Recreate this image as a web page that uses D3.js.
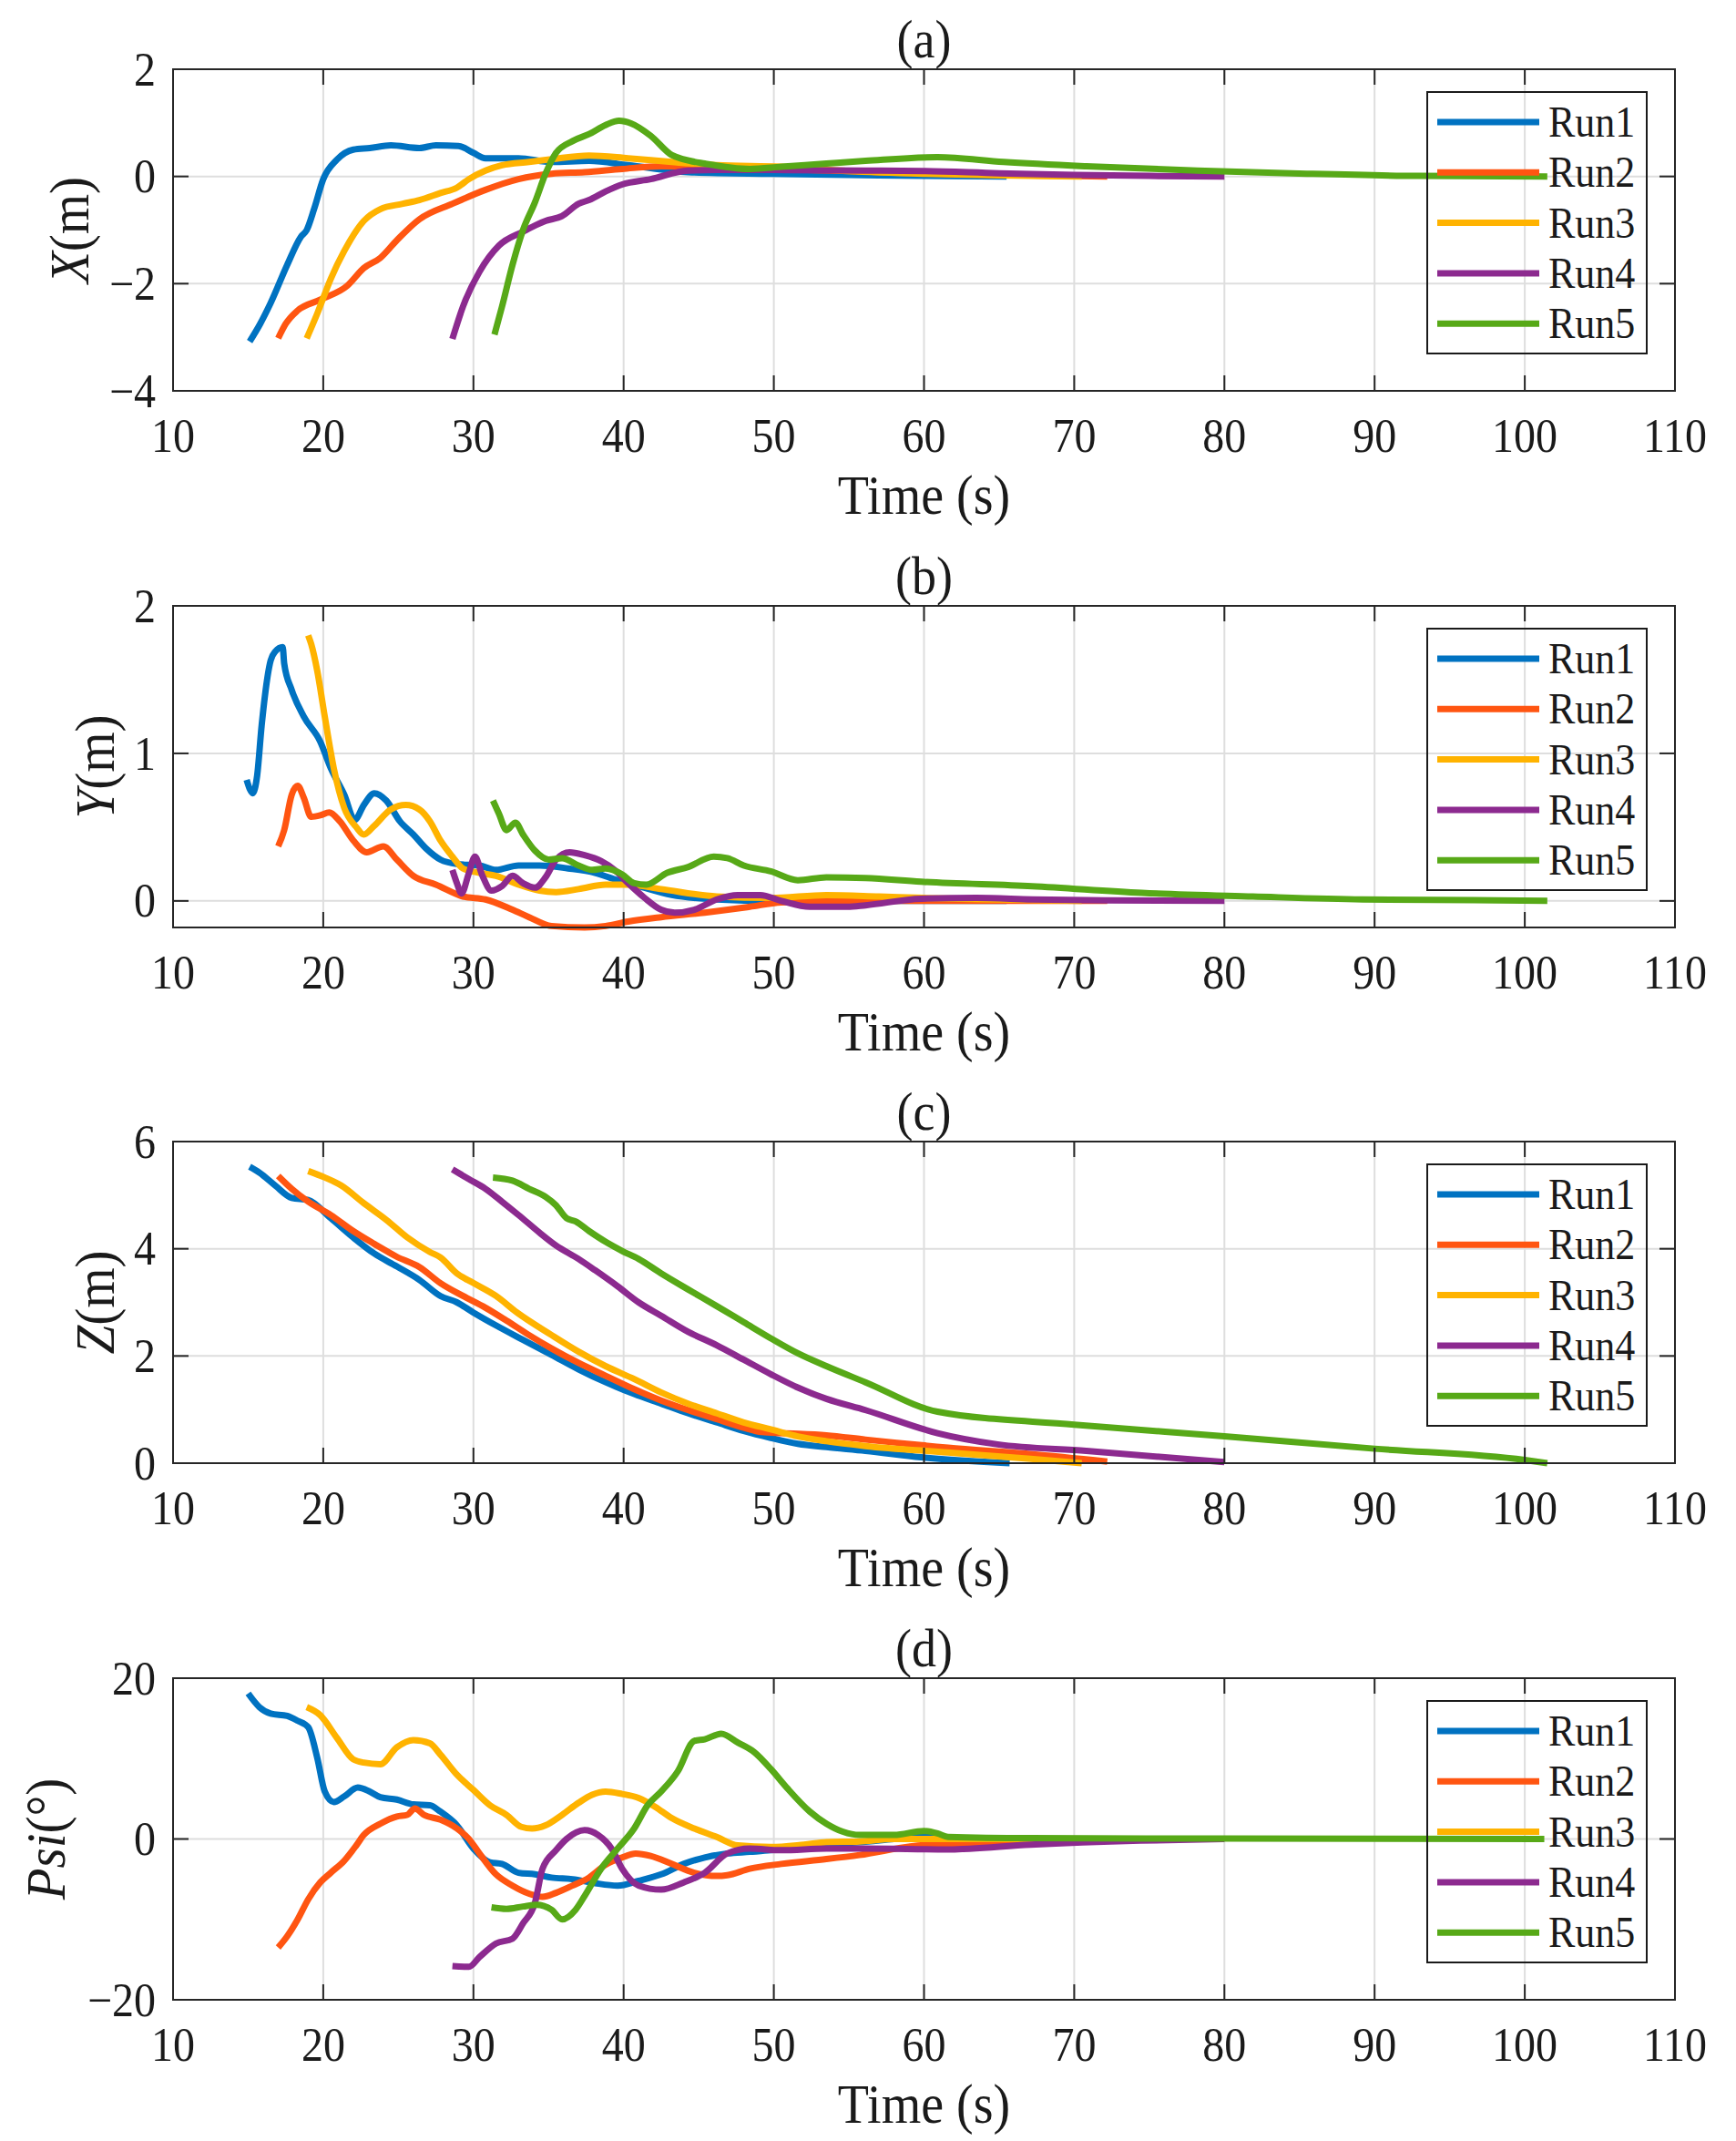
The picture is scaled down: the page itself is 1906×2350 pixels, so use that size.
<!DOCTYPE html>
<html>
<head>
<meta charset="utf-8">
<script src="https://cdn.jsdelivr.net/npm/d3@7"></script>
<style>
  html, body { margin: 0; padding: 0; background: #fff; }
  svg { display: block; }
  text { font-family: "Liberation Serif", "Times New Roman", Times, serif; fill: #1a1a1a; }
</style>
</head>
<body>
<svg id="chart" width="1906" height="2350"></svg>
<script>
// ---------------- DATA ----------------
const runNames = ["Run1", "Run2", "Run3", "Run4", "Run5"];
const runColors = ["#0072C1", "#FF5511", "#FFB300", "#8C2A8F", "#57A917"];
const xTicks = [10, 20, 30, 40, 50, 60, 70, 80, 90, 100, 110];
const panelTitles = ["(a)", "(b)", "(c)", "(d)"];

// Panel (a): X(m)
const xRun1 = [[15.1,-3.08],[15.8,-2.75],[16.5,-2.36],[17.6,-1.65],[18.5,-1.13],[18.9,-1.0],[19.4,-0.6],[20.0,-0.05],[20.9,0.31],[22.0,0.5],[23.1,0.53],[24.5,0.58],[26.4,0.53],[27.5,0.58],[29.0,0.57],[30.0,0.44],[30.8,0.34],[33.0,0.34],[35.2,0.27],[37.7,0.29],[40.3,0.21],[44.3,0.08],[49.8,0.05],[55,0.03],[60,0.01],[65.5,0]];
const xRun2 = [[17.0,-3.02],[17.5,-2.75],[18.3,-2.5],[19.8,-2.3],[21.6,-2.04],[22.7,-1.71],[23.8,-1.52],[24.9,-1.19],[26.4,-0.8],[28.6,-0.51],[30.8,-0.25],[33.0,-0.05],[35.2,0.05],[37.4,0.08],[39.9,0.14],[42.5,0.19],[45.4,0.18],[50,0.14],[55,0.1],[60,0.06],[65,0.03],[72.2,0]];
const xRun3 = [[18.9,-3.02],[19.6,-2.56],[20.5,-1.91],[21.4,-1.39],[22.7,-0.83],[23.8,-0.61],[25.3,-0.51],[26.4,-0.44],[27.8,-0.31],[28.9,-0.21],[29.7,-0.05],[30.8,0.11],[31.9,0.21],[33.7,0.27],[35.2,0.32],[37.7,0.39],[40.3,0.34],[43.2,0.27],[46.2,0.21],[50.5,0.18],[55,0.1],[60,0.05],[65,0.02],[70.5,0]];
const xRun4 = [[28.6,-3.03],[29.3,-2.43],[30.4,-1.78],[31.7,-1.29],[33.3,-1.03],[34.8,-0.83],[35.9,-0.74],[37.0,-0.51],[37.7,-0.44],[38.8,-0.28],[39.9,-0.15],[41.8,-0.05],[44.3,0.11],[46.2,0.12],[50,0.12],[56.1,0.11],[60,0.1],[65,0.06],[70,0.03],[75,0.01],[80,0]];
const xRun5 = [[31.4,-2.95],[31.9,-2.43],[32.6,-1.65],[33.3,-1.0],[34.1,-0.48],[34.8,0.05],[35.5,0.44],[36.6,0.66],[37.7,0.79],[38.8,0.96],[39.7,1.04],[40.5,0.99],[41.8,0.76],[43.2,0.40],[44.0,0.32],[45.4,0.24],[48.4,0.14],[50.5,0.18],[53.5,0.24],[56.1,0.29],[60.9,0.36],[65.3,0.27],[70.8,0.19],[78.2,0.11],[85.5,0.05],[92.9,0.01],[101.5,0]];

// Panel (b): Y(m)
const yRun1 = [[14.9,0.82],[15.1,0.76],[15.3,0.73],[15.6,0.85],[15.9,1.19],[16.5,1.63],[16.8,1.69],[17.3,1.72],[17.4,1.61],[17.9,1.43],[18.7,1.25],[19.8,1.08],[20.5,0.9],[21.4,0.72],[22.1,0.55],[22.7,0.65],[23.4,0.73],[24.2,0.68],[25.1,0.54],[26.0,0.45],[26.9,0.35],[27.8,0.28],[28.9,0.25],[30.4,0.24],[31.5,0.21],[33.0,0.24],[34.4,0.24],[36.3,0.22],[38.1,0.19],[39.6,0.14],[41.0,0.1],[43.2,0.04],[46.2,0.01],[49.8,0],[55,0],[65.5,0]];
const yRun2 = [[17.0,0.37],[17.4,0.48],[17.9,0.72],[18.3,0.78],[18.7,0.70],[19.2,0.57],[19.8,0.58],[20.4,0.6],[21.1,0.54],[22.0,0.41],[22.9,0.33],[24.0,0.37],[24.9,0.28],[26.0,0.17],[27.5,0.11],[29.3,0.03],[30.8,0.01],[32.6,-0.06],[33.7,-0.11],[35.2,-0.17],[37.4,-0.18],[38.8,-0.17],[40.3,-0.14],[42.5,-0.11],[45.4,-0.08],[48.4,-0.04],[50.5,-0.01],[55,0],[60,0],[72.2,0]];
const yRun3 = [[19.0,1.8],[19.2,1.74],[19.6,1.56],[20.1,1.25],[20.7,0.9],[21.4,0.63],[22.2,0.5],[22.7,0.45],[23.4,0.51],[24.5,0.62],[25.5,0.65],[26.4,0.62],[27.1,0.54],[27.8,0.41],[28.6,0.30],[29.3,0.22],[30.4,0.19],[31.5,0.17],[33.0,0.11],[34.4,0.07],[35.5,0.06],[37.0,0.08],[38.8,0.11],[40.3,0.11],[42.5,0.08],[46.2,0.03],[49.8,0.02],[53.5,0.04],[57,0.03],[60,0.02],[65,0.01],[70.5,0]];
const yRun4 = [[28.6,0.21],[28.9,0.12],[29.2,0.05],[29.7,0.19],[30.1,0.3],[30.6,0.17],[31.2,0.07],[31.9,0.1],[32.6,0.17],[33.3,0.12],[34.1,0.09],[34.8,0.16],[35.5,0.28],[36.4,0.33],[37.4,0.31],[38.5,0.27],[39.4,0.21],[40.3,0.12],[41.4,0.02],[42.5,-0.06],[43.4,-0.08],[44.7,-0.06],[46.2,0.01],[47.6,0.04],[49.1,0.04],[50.5,0],[52.4,-0.04],[54.9,-0.04],[56.1,-0.03],[59.8,0.015],[63.5,0.02],[67.2,0.01],[72,0.003],[80,0]];
const yRun5 = [[31.3,0.68],[31.7,0.59],[32.2,0.48],[32.8,0.53],[33.3,0.45],[34.1,0.34],[35.0,0.28],[35.9,0.29],[37.0,0.24],[37.9,0.21],[38.8,0.22],[39.9,0.18],[40.7,0.12],[41.5,0.11],[42.9,0.19],[44.3,0.23],[46.0,0.3],[46.9,0.29],[48.0,0.24],[49.8,0.2],[51.6,0.14],[53.5,0.16],[56.1,0.155],[59.8,0.13],[67.2,0.1],[74.5,0.055],[81.9,0.03],[89.2,0.01],[96.6,0.005],[101.5,0]];

// Panel (c): Z(m)
const zRun1 = [[15.1,5.53],[15.75,5.42],[16.8,5.18],[17.9,4.95],[19.0,4.91],[20.5,4.57],[22.0,4.21],[23.4,3.91],[24.9,3.67],[26.4,3.42],[27.8,3.12],[28.9,3.0],[30.0,2.81],[31.5,2.57],[33.3,2.3],[35.2,2.02],[37.0,1.75],[38.8,1.51],[40.7,1.29],[42.5,1.11],[44.3,0.93],[46.2,0.76],[48.0,0.6],[49.8,0.47],[51.6,0.36],[53.5,0.3],[56.1,0.23],[59.8,0.11],[65.7,0]];
const zRun2 = [[17.0,5.36],[17.9,5.12],[19.0,4.88],[20.5,4.63],[22.0,4.33],[23.4,4.09],[24.9,3.85],[26.4,3.66],[27.8,3.36],[29.3,3.12],[30.8,2.9],[32.2,2.66],[33.7,2.39],[35.2,2.14],[37.0,1.87],[38.8,1.63],[40.7,1.38],[42.5,1.17],[44.3,0.99],[46.2,0.82],[48.0,0.66],[49.2,0.58],[50.5,0.56],[53.5,0.52],[56.1,0.44],[61.6,0.29],[67.1,0.17],[72.2,0.03]];
const zRun3 = [[19.0,5.45],[20.1,5.33],[21.2,5.18],[22.7,4.85],[24.2,4.54],[25.6,4.21],[27.1,3.94],[27.8,3.84],[28.9,3.54],[30.0,3.36],[31.5,3.12],[32.9,2.81],[35.2,2.39],[37.0,2.08],[38.8,1.81],[40.7,1.57],[42.5,1.32],[44.3,1.11],[46.2,0.93],[48.0,0.76],[49.8,0.63],[51.6,0.5],[53.5,0.41],[56.1,0.32],[61.6,0.2],[67.1,0.08],[70.5,0]];
const zRun4 = [[28.6,5.48],[29.7,5.3],[30.8,5.12],[31.9,4.88],[33.0,4.63],[34.4,4.3],[35.5,4.06],[37.0,3.81],[38.1,3.6],[39.6,3.3],[41.0,3.0],[42.5,2.75],[44.3,2.45],[46.2,2.2],[48.0,1.93],[49.8,1.66],[51.6,1.41],[53.5,1.2],[56.1,0.99],[60.9,0.56],[64.9,0.35],[70.8,0.23],[80,0.02]];
const zRun5 = [[31.3,5.33],[32.6,5.27],[33.7,5.12],[34.8,4.97],[35.5,4.81],[36.2,4.57],[36.8,4.51],[37.7,4.33],[38.8,4.13],[39.9,3.96],[41.0,3.81],[42.5,3.54],[44.3,3.24],[46.2,2.93],[48.0,2.63],[49.8,2.33],[51.6,2.05],[53.5,1.81],[56.1,1.51],[60.9,0.96],[70,0.72],[80,0.5],[90,0.27],[100,0.06],[101.5,0]];

// Panel (d): Psi(deg)
const psiRun1 = [[15.0,18.1],[15.75,16.4],[16.5,15.6],[17.6,15.3],[18.3,14.7],[19.0,13.9],[19.6,10.1],[20.1,5.9],[20.7,4.6],[21.4,5.3],[22.3,6.4],[23.1,5.9],[23.8,5.2],[24.9,4.9],[26.0,4.3],[27.1,4.2],[27.8,3.4],[28.9,1.7],[30.0,-1.2],[31.1,-2.9],[31.9,-3.1],[33.0,-4.2],[34.1,-4.4],[35.2,-4.8],[36.6,-5.0],[38.1,-5.5],[39.6,-5.8],[41.0,-5.2],[42.5,-4.4],[44.0,-3.1],[45.4,-2.3],[46.9,-1.8],[48.4,-1.6],[49.8,-1.4],[52.0,-0.8],[53.5,-0.6],[55.7,-0.4],[58,0],[60,0.3],[61,0.1],[65.7,0]];
const psiRun2 = [[17.0,-13.5],[17.6,-12.1],[18.3,-10],[19.0,-7.5],[19.8,-5.4],[20.5,-4.2],[21.4,-2.7],[22.2,-0.8],[22.7,0.5],[23.8,1.9],[24.9,2.8],[25.6,3.0],[26.1,3.8],[26.7,3.0],[27.8,2.4],[28.9,1.3],[29.7,0],[30.4,-1.8],[31.5,-4.4],[32.6,-5.8],[33.7,-6.8],[34.6,-7.2],[35.5,-6.7],[36.6,-5.8],[37.7,-4.8],[38.8,-3.2],[39.9,-2.3],[40.8,-1.8],[41.8,-2.1],[43.2,-3.1],[44.7,-4.2],[46.2,-4.6],[46.9,-4.5],[48.4,-3.7],[50.5,-3.1],[53.5,-2.5],[55.7,-2.0],[59.8,-0.8],[67.1,-0.4],[72.2,0]];
const psiRun3 = [[18.9,16.4],[19.8,15.4],[20.9,12.6],[22.0,9.9],[22.7,9.5],[23.8,9.3],[24.9,11.4],[26.0,12.3],[27.1,11.9],[27.8,10.5],[28.9,8.0],[30.0,6.1],[31.1,4.2],[32.2,3.0],[33.2,1.5],[33.9,1.3],[34.8,1.7],[35.9,3.0],[37.0,4.5],[37.9,5.5],[38.8,5.9],[39.9,5.6],[41.0,5.1],[42.1,4.0],[43.2,2.6],[44.7,1.3],[46.2,0.25],[47.6,-0.8],[49.8,-1.0],[52.0,-0.7],[53.5,-0.4],[55.7,-0.3],[58,0],[62,0],[70.5,0]];
const psiRun4 = [[28.6,-15.8],[29.7,-15.9],[30.4,-14.7],[31.5,-13.0],[32.6,-12.4],[33.3,-10.5],[34.1,-7.9],[34.6,-3.7],[35.5,-1.4],[36.2,0],[37.4,1.1],[38.3,0.5],[39.2,-1.2],[39.9,-3.7],[41.0,-5.8],[42.5,-6.3],[44.0,-5.4],[45.4,-4.2],[46.9,-1.8],[48.4,-1.2],[50.5,-1.4],[53.5,-1.2],[56.1,-1.2],[61.6,-1.3],[67.1,-0.7],[74.4,-0.2],[80,0]];
const psiRun5 = [[31.2,-8.5],[32.2,-8.7],[33.3,-8.4],[34.2,-8.2],[35.2,-8.8],[35.9,-10.0],[36.8,-8.8],[37.4,-7.1],[38.5,-3.7],[39.6,-1.2],[40.7,1.3],[41.6,4.2],[42.5,5.9],[43.6,8.4],[44.7,12.2],[45.4,12.4],[46.5,13.1],[47.6,12.0],[48.7,10.8],[49.8,8.7],[50.9,6.3],[52.4,3.4],[53.5,1.9],[54.6,0.9],[55.7,0.5],[58.0,0.5],[60.0,1.0],[60.9,0.7],[61.6,0.25],[67.1,0.1],[80,0.05],[101.3,0]];

const yDomains = [[-4, 2], [-0.18, 2], [0, 6], [-20, 20]];
const yTickVals = [[-4, -2, 0, 2], [0, 1, 2], [0, 2, 4, 6], [-20, 0, 20]];
const yLabelVar = ["X", "Y", "Z", "Psi"];
const yLabelUnit = ["(m)", "(m)", "(m)", "(°)"];
const xLabel = "Time (s)";

// ---------------- LAYOUT ----------------
const panelSeries = [
  [xRun1, xRun2, xRun3, xRun4, xRun5],
  [yRun1, yRun2, yRun3, yRun4, yRun5],
  [zRun1, zRun2, zRun3, zRun4, zRun5],
  [psiRun1, psiRun2, psiRun3, psiRun4, psiRun5]
];
const panelTops = [76, 665, 1253, 1842];
const panelH = 353;
const left = 190, right = 1839;
const yLabelX = [97, 125, 125, 71];
const tickLen = 17;
const axisColor = "#262626";
const SY = 1.08; // vertical stretch of glyphs seen in the reference

const svg = d3.select("#chart");
const x = d3.scaleLinear().domain([10, 110]).range([left, right]);
const fmt = v => (v < 0 ? "\u2212" + Math.abs(v) : String(v));

function label(g, px, py, size, anchor, str, dy) {
  return g.append("text")
    .attr("transform", `translate(${px},${py}) scale(1,${SY})`)
    .attr("dy", dy || null)
    .attr("text-anchor", anchor).attr("font-size", size).text(str);
}

panelSeries.forEach((series, p) => {
  const top = panelTops[p], bottom = top + panelH;
  const y = d3.scaleLinear().domain(yDomains[p]).range([bottom, top]);
  const g = svg.append("g");

  const clipId = "clip" + p;
  svg.append("clipPath").attr("id", clipId)
    .append("rect").attr("x", left).attr("y", top - 4).attr("width", right - left).attr("height", panelH + 8);

  // grid
  const grid = g.append("g");
  grid.selectAll("line.gx").data(xTicks.slice(1, -1)).enter().append("line")
    .attr("x1", d => x(d)).attr("x2", d => x(d)).attr("y1", top).attr("y2", bottom)
    .attr("stroke", "#dedede").attr("stroke-width", 2);
  grid.selectAll("line.gy").data(yTickVals[p].filter(v => v > yDomains[p][0] && v < yDomains[p][1])).enter().append("line")
    .attr("x1", left).attr("x2", right).attr("y1", d => y(d)).attr("y2", d => y(d))
    .attr("stroke", "#dedede").attr("stroke-width", 2);

  // lines
  const line = d3.line().x(d => x(d[0])).y(d => y(d[1])).curve(d3.curveMonotoneX);
  g.append("g").attr("clip-path", `url(#${clipId})`)
    .selectAll("path").data(series).enter().append("path")
    .attr("d", d => line(d))
    .attr("fill", "none")
    .attr("stroke", (d, i) => runColors[i])
    .attr("stroke-width", 7)
    .attr("stroke-linejoin", "round");

  // box
  g.append("rect").attr("x", left).attr("y", top).attr("width", right - left).attr("height", panelH)
    .attr("fill", "none").attr("stroke", axisColor).attr("stroke-width", 2);

  // ticks (inside, mirrored)
  const tk = g.append("g").attr("stroke", axisColor).attr("stroke-width", 2);
  xTicks.forEach(t => {
    tk.append("line").attr("x1", x(t)).attr("x2", x(t)).attr("y1", bottom).attr("y2", bottom - tickLen);
    tk.append("line").attr("x1", x(t)).attr("x2", x(t)).attr("y1", top).attr("y2", top + tickLen);
  });
  yTickVals[p].forEach(v => {
    tk.append("line").attr("x1", left).attr("x2", left + tickLen).attr("y1", y(v)).attr("y2", y(v));
    tk.append("line").attr("x1", right).attr("x2", right - tickLen).attr("y1", y(v)).attr("y2", y(v));
  });

  // tick labels
  xTicks.forEach(t => label(g, x(t), bottom + 67, 48, "middle", t));
  yTickVals[p].forEach(v => label(g, 171, y(v), 48, "end", fmt(v), "0.34em"));

  // x label
  label(g, (left + right) / 2, bottom + 135, 56, "middle", xLabel);

  // title
  label(g, (left + right) / 2, top - 13, 54, "middle", panelTitles[p]);

  // y label
  const yl = g.append("text")
    .attr("transform", `translate(${yLabelX[p]},${(top + bottom) / 2}) rotate(-90) scale(1,${SY})`)
    .attr("text-anchor", "middle").attr("font-size", 57);
  yl.append("tspan").attr("font-style", "italic").text(yLabelVar[p]);
  yl.append("tspan").text(yLabelUnit[p]);

  // legend
  const lx = 1567, ly = top + 25, lw = 241, lh = 287;
  const lg = g.append("g");
  lg.append("rect").attr("x", lx).attr("y", ly).attr("width", lw).attr("height", lh)
    .attr("fill", "none").attr("stroke", "#1a1a1a").attr("stroke-width", 2);
  runNames.forEach((name, i) => {
    const iy = ly + 33 + i * 55.3;
    lg.append("line").attr("x1", 1578).attr("x2", 1690).attr("y1", iy).attr("y2", iy)
      .attr("stroke", runColors[i]).attr("stroke-width", 7);
    label(lg, 1700, iy, 44, "start", name, "0.34em");
  });
});
</script>
</body>
</html>
